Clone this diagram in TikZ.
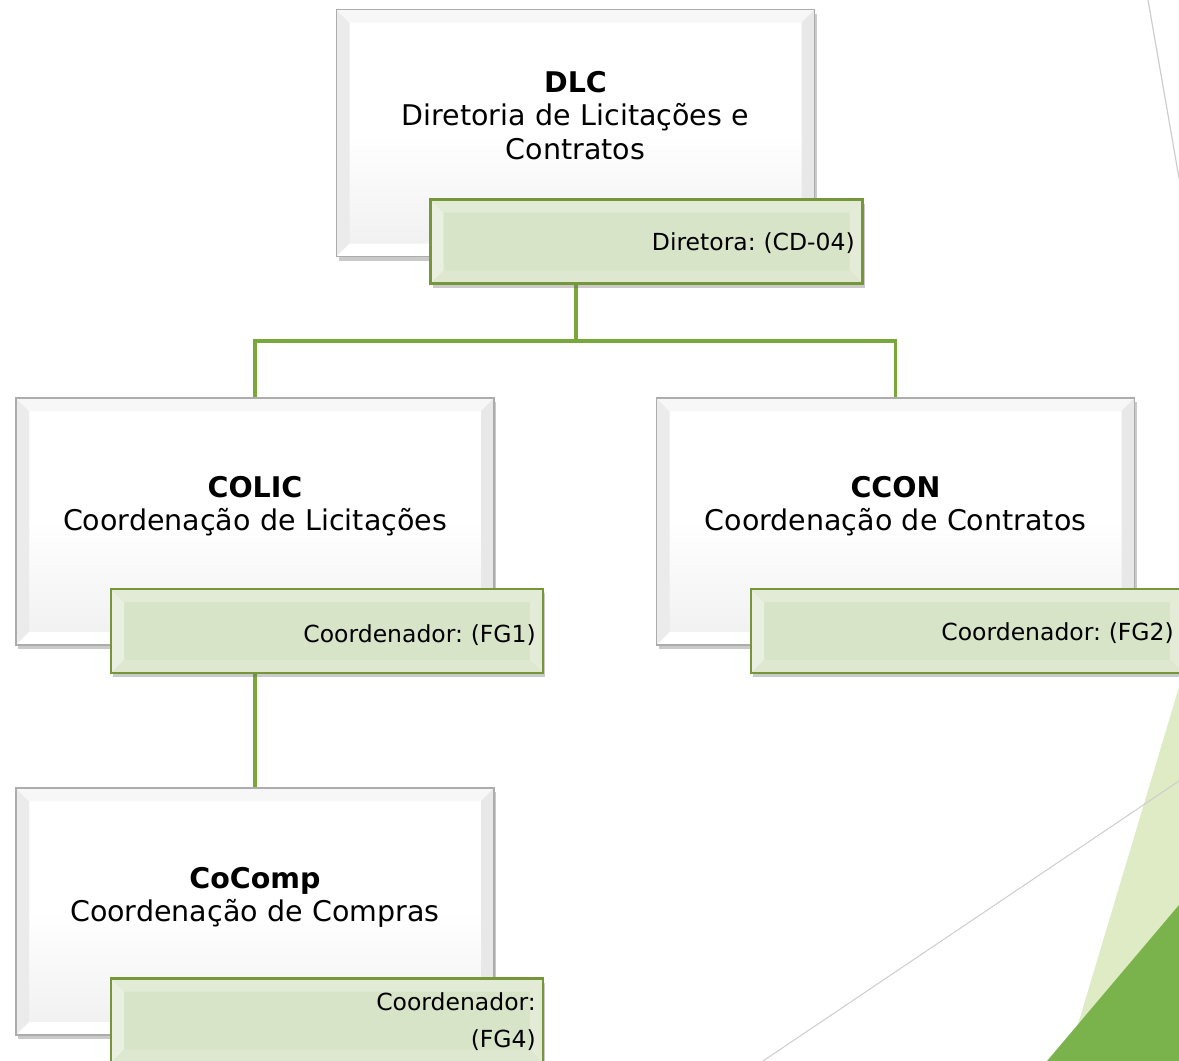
\documentclass[tikz,border=0pt]{standalone}
\usepackage{fontspec}
\setmainfont{DejaVu Sans}
\frenchspacing
\usetikzlibrary{shadows}
\definecolor{conng}{RGB}{120,168,60}
\definecolor{labfill}{RGB}{216,228,200}
\definecolor{labline}{RGB}{118,150,58}
\definecolor{boxline}{RGB}{172,172,172}
\definecolor{decolight}{RGB}{222,235,197}
\definecolor{decodark}{RGB}{122,178,76}
\definecolor{decoline}{RGB}{205,205,205}
\newcommand\mybevel[5]{%
 \fill[#2] (path picture bounding box.north west) -- ([shift={(#1,-#1)}]path picture bounding box.north west) -- ([shift={(#1,#1)}]path picture bounding box.south west) -- (path picture bounding box.south west) -- cycle;
 \fill[#3] (path picture bounding box.north west) -- ([shift={(#1,-#1)}]path picture bounding box.north west) -- ([shift={(-#1,-#1)}]path picture bounding box.north east) -- (path picture bounding box.north east) -- cycle;
 \fill[#4] (path picture bounding box.north east) -- ([shift={(-#1,-#1)}]path picture bounding box.north east) -- ([shift={(-#1,#1)}]path picture bounding box.south east) -- (path picture bounding box.south east) -- cycle;
 \fill[#5] (path picture bounding box.south west) -- ([shift={(#1,#1)}]path picture bounding box.south west) -- ([shift={(-#1,#1)}]path picture bounding box.south east) -- (path picture bounding box.south east) -- cycle;
}
\tikzset{
 whitebox/.style={draw=boxline, line width=1.3pt, inner sep=0pt,
   minimum width=478pt, minimum height=247pt,
   top color=white, bottom color=black!6, middle color=white,
   drop shadow={shadow xshift=2pt, shadow yshift=-4pt, opacity=0.35, fill=black!60},
   path picture={\mybevel{13pt}{black!8}{black!3}{black!9}{white}}},
 greenbox/.style={draw=labline, line width=2.2pt, inner sep=0pt,
   minimum width=432pt, minimum height=84pt, fill=labfill,
   drop shadow={shadow xshift=2pt, shadow yshift=-4pt, opacity=0.35, fill=black!60},
   path picture={\mybevel{13pt}{labfill!55!white}{labfill!75!white}{labfill!70!white}{labfill!85!white}}},
 conn/.style={draw=conng, line width=3.6pt},
 titletext/.style={inner sep=0pt, anchor=base, text width=470pt, align=center,
   font=\fontsize{28.5}{33.5}\selectfont},
 labtext/.style={inner sep=0pt, anchor=base east, text width=420pt, align=right,
   font=\fontsize{23.5}{37}\selectfont},
}
\begin{document}
\begin{tikzpicture}[x=1pt,y=-1pt]
\useasboundingbox (0,0) rectangle (1179,1061);
% background decorations
\fill[decolight] (1179,687) -- (1067,1061) -- (1179,1061) -- cycle;
\fill[decodark] (1047,1061) -- (1179,905) -- (1179,1061) -- cycle;
\draw[decoline, line width=1pt] (763,1061) -- (1179,781);
\draw[decoline, line width=1.2pt] (1148,0) -- (1179,178);
% coordinates
\coordinate (bus) at (576,341);
% boxes
\node[whitebox] (dlc) at (575.5,133) {};
\node[whitebox] (colic) at (255,521.5) {};
\node[whitebox] (ccon) at (895.5,521.5) {};
\node[whitebox] (cocomp) at (255,911.5) {};
% connectors
\draw[conn] (dlc.south -| bus) -- (bus) -| (colic.north);
\draw[conn] (bus) -| (ccon.north);
\draw[conn] (colic.south) -- (cocomp.north);
% green labels
\node[greenbox] (dlcg) at (646.5,241.5) {};
\node[greenbox] (colicg) at (327,631) {};
\node[greenbox] (ccong) at (967,631) {};
\node[greenbox] (cocompg) at (327,1020.5) {};
% titles
\node[titletext] (dlct) at (575.5,92) {\textbf{DLC}\\Diretoria de Licitações e\\Contratos};
\node[titletext] (colict) at (255,497) {\textbf{COLIC}\\Coordenação de Licitações};
\node[titletext] (ccont) at (895.5,497) {\textbf{CCON}\\Coordenação de Contratos};
\node[titletext] (cocompt) at (255,888) {\textbf{CoComp}\\Coordenação de Compras};
% label texts
\node[labtext] (dlcl) at (855,250) {Diretora: (CD-04)};
\node[labtext] (colicl) at (536,642) {Coordenador: (FG1)};
\node[labtext] (cconl) at (1174,640) {Coordenador: (FG2)};
\node[labtext] (cocompl) at (536,1010) {Coordenador:\\(FG4)};
\end{tikzpicture}
\end{document}
